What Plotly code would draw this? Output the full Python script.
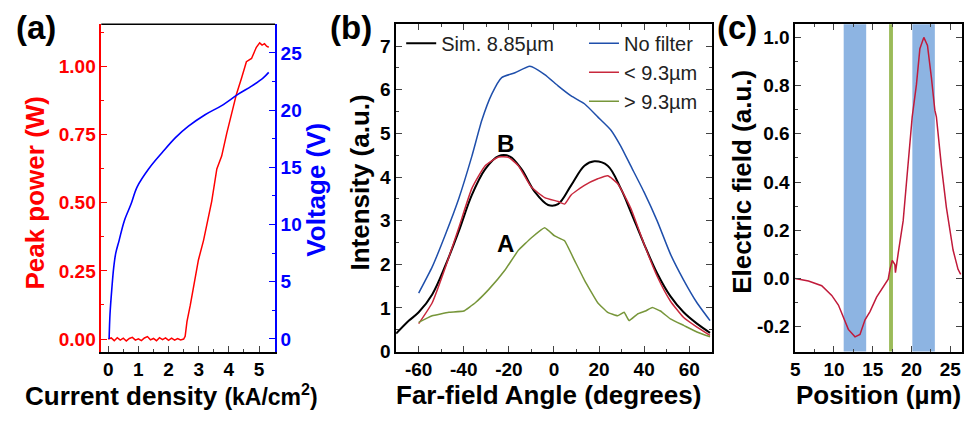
import plotly.graph_objects as go

FONT = "Liberation Sans"

# ---------------- Panel (a) data ----------------
a_power_x = [0.0, 0.1, 0.2, 0.3, 0.4, 0.5, 0.6, 0.7, 0.8, 0.9, 1.0, 1.1, 1.2, 1.3, 1.4, 1.5, 1.6, 1.7, 1.8, 1.9,
             2.0, 2.1, 2.2, 2.3, 2.4, 2.5, 2.55, 2.61, 2.72, 2.88, 2.99, 3.16, 3.27, 3.43, 3.6, 3.76, 3.93,
             4.09, 4.25, 4.42, 4.58, 4.75, 4.91, 5.02, 5.1, 5.18, 5.25, 5.32]
a_power_y = [0.0, 0.004, -0.006, 0.005, -0.004, 0.003, -0.007, 0.002, 0.006, -0.004, 0.001, -0.006, 0.004,
             0.009, -0.003, 0.002, -0.006, 0.005, -0.002, 0.004, -0.005, 0.003, -0.004, 0.002, -0.003, 0.0,
             0.01, 0.064, 0.124, 0.219, 0.29, 0.362, 0.421, 0.505, 0.624, 0.671, 0.755,
             0.826, 0.898, 0.957, 1.017, 1.029, 1.07, 1.086, 1.078, 1.083, 1.074, 1.07]
a_volt_x = [0.03, 0.06, 0.12, 0.18, 0.25, 0.36, 0.53, 0.75, 0.96, 1.35, 1.79, 2.23, 2.66, 3.21, 3.76, 4.31,
            4.75, 5.13, 5.32]
a_volt_y = [0.0, 2.2, 4.4, 6.2, 7.5, 8.6, 10.3, 11.75, 13.3, 14.9, 16.3, 17.6, 18.6, 19.6, 20.4, 21.4,
            22.1, 22.8, 23.3]

# ---------------- Panel (b) data ----------------
b_blue_x = [-60, -54, -48.1, -42.2, -36.4, -32, -27.6, -23.2, -17.3, -10.7, -4.1, 1.8, 7.6, 13.5, 19.4,
            25.2, 29.6, 34, 39.9, 45.8, 51.6, 57.5, 63.4, 69.2]
b_blue_y = [1.34, 1.94, 2.69, 3.51, 4.48, 5.3, 5.9, 6.28, 6.39, 6.54, 6.35, 6.09, 5.86, 5.68, 5.38,
            5.08, 4.71, 4.26, 3.66, 2.99, 2.24, 1.64, 1.12, 0.71]
b_sim_x = [-70, -64.3, -60, -54, -48.1, -42.2, -36.4, -30.5, -24.6, -19.5, -14.4, -8.5, -2.6, 1.8, 7.6,
           13.5, 17.9, 23.8, 29.6, 34, 39.9, 45.8, 51.6, 57.5, 63.4, 69.2]
b_sim_y = [0.41, 0.71, 0.9, 1.31, 1.98, 2.76, 3.59, 4.18, 4.48, 4.47, 4.18, 3.66, 3.36, 3.38, 3.81,
           4.26, 4.36, 4.26, 3.74, 3.21, 2.47, 1.79, 1.27, 0.9, 0.64, 0.43]
b_red_x = [-60, -54, -48.1, -42.2, -36.4, -30.5, -24.6, -20.2, -15.8, -10, -4.1, 1.8, 4.7, 7.6, 13.5,
           19.4, 23.8, 28.2, 34, 39.9, 45.8, 51.6, 57.5, 63.4, 69.2]
b_red_y = [0.64, 1.12, 1.94, 2.84, 3.74, 4.26, 4.46, 4.45, 4.26, 3.77, 3.53, 3.44, 3.38, 3.59, 3.81,
           3.96, 4.03, 3.85, 3.29, 2.47, 1.72, 1.16, 0.78, 0.56, 0.37]
b_green_x = [-60, -54, -46.6, -40, -34.9, -29, -21.7, -15.8, -10, -4.1, 0.3, 4.7, 9.1, 13.5, 19.4, 23.8,
             28.2, 31.1, 33.3, 37, 40.6, 43.6, 47.2, 51.6, 57.5, 63.4, 69.2]
b_green_y = [0.67, 0.82, 0.9, 0.93, 1.12, 1.42, 1.87, 2.32, 2.61, 2.84, 2.65, 2.54, 2.09, 1.64, 1.12, 0.9,
             0.82, 0.9, 0.71, 0.86, 0.93, 1.01, 0.93, 0.75, 0.6, 0.45, 0.34]
b_names = ["Sim. 8.85\u00b5m", "No filter", "< 9.3\u00b5m", "> 9.3\u00b5m"]
b_ticks = [-60, -40, -20, 0, 20, 40, 60]
b_ticktext = ["-60", "-40", "-20", "0", "20", "40", "60"]

# ---------------- Panel (c) data ----------------
c_x = [5.0, 6.71, 8.42, 9.71, 10.57, 11.21, 11.85, 12.71, 13.35, 14.0, 14.64, 15.49, 16.35, 16.99, 17.21,
       17.51, 17.85, 17.92, 18.28, 18.92, 19.35, 19.78, 20.08, 20.63, 21.07, 21.58, 22.05, 22.56, 23.0,
       23.2, 23.84, 24.49, 25.35, 25.99, 26.33]
c_y = [0.0, -0.01, -0.03, -0.07, -0.11, -0.164, -0.211, -0.242, -0.232, -0.171, -0.137, -0.077, -0.036,
       -0.003, 0.038, 0.075, 0.058, 0.024, 0.105, 0.24, 0.40, 0.56, 0.67, 0.805, 0.953, 1.0, 0.967, 0.832,
       0.698, 0.67, 0.468, 0.294, 0.118, 0.038, 0.017]
c_blue_bands = [(11.25, 14.15), (20.1, 23.0)]
c_green_band = (17.1, 17.6)
c_yticks = [-0.2, 0.0, 0.2, 0.4, 0.6, 0.8, 1.0]
c_yticktext = ["-0.2", "0.0", "0.2", "0.4", "0.6", "0.8", "1.0"]

RED_A = "#ff0000"
BLUE_A = "#0000ff"
BLUE_B = "#1f4fab"
RED_B = "#c8283c"
GREEN_B = "#77963a"
RED_C = "#c01a3a"

fig = go.Figure()

# Panel a
fig.add_trace(go.Scatter(x=a_power_x, y=a_power_y, mode="lines", line=dict(color=RED_A, width=1.5),
                         xaxis="x", yaxis="y", showlegend=False))
fig.add_trace(go.Scatter(x=a_volt_x, y=a_volt_y, mode="lines", line=dict(color=BLUE_A, width=1.6, shape="spline"),
                         xaxis="x", yaxis="y2", showlegend=False))

# Panel b
fig.add_trace(go.Scatter(x=b_sim_x, y=b_sim_y, mode="lines", name=b_names[0],
                         line=dict(color="black", width=2, shape="spline"),
                         xaxis="x2", yaxis="y3", legend="legend"))
fig.add_trace(go.Scatter(x=b_blue_x, y=b_blue_y, mode="lines", name=b_names[1],
                         line=dict(color=BLUE_B, width=1.5, shape="spline", smoothing=0.5),
                         xaxis="x2", yaxis="y3", legend="legend2"))
fig.add_trace(go.Scatter(x=b_red_x, y=b_red_y, mode="lines", name=b_names[2],
                         line=dict(color=RED_B, width=1.5, shape="spline", smoothing=0.5),
                         xaxis="x2", yaxis="y3", legend="legend2"))
fig.add_trace(go.Scatter(x=b_green_x, y=b_green_y, mode="lines", name=b_names[3],
                         line=dict(color=GREEN_B, width=1.5, shape="spline", smoothing=0.3),
                         xaxis="x2", yaxis="y3", legend="legend2"))

# Panel c
fig.add_trace(go.Scatter(x=c_x, y=c_y, mode="lines", line=dict(color=RED_C, width=1.5),
                         xaxis="x3", yaxis="y4", showlegend=False))

YDOM = [0.1425, 0.9406]
tickfont = dict(family=FONT, size=19, color="black", weight="bold")


def axis_common(**kw):
    d = dict(ticks="inside", ticklen=6, tickwidth=1.2, showline=True, linewidth=1.5,
             showgrid=False, zeroline=False, tickfont=tickfont)
    d.update(kw)
    return d


fig.update_layout(
    width=964, height=421,
    margin=dict(l=0, r=0, t=0, b=0),
    paper_bgcolor="white", plot_bgcolor="white",
    font=dict(family=FONT, color="black"),
    xaxis=axis_common(domain=[0.1006, 0.2822], range=[-0.23, 5.53], tick0=0, dtick=1, linecolor="black",
                      anchor="y", minor=dict(ticks="inside", ticklen=3, dtick=0.5, tick0=0)),
    yaxis=axis_common(domain=YDOM, range=[-0.046, 1.154], tick0=0, dtick=0.25, tickformat=".2f",
                      linecolor=RED_A, tickcolor=RED_A, anchor="x",
                      tickfont=dict(family=FONT, size=19, color=RED_A, weight="bold"),
                      minor=dict(ticks="inside", ticklen=3, dtick=0.125, tick0=0, tickcolor=RED_A)),
    yaxis2=axis_common(domain=YDOM, range=[-1.1, 27.5], tick0=0, dtick=5, side="right", overlaying="y",
                       anchor="x", linecolor=BLUE_A, tickcolor=BLUE_A,
                       tickfont=dict(family=FONT, size=19, color=BLUE_A, weight="bold"),
                       minor=dict(ticks="inside", ticklen=3, dtick=2.5, tick0=0, tickcolor=BLUE_A)),
    xaxis2=axis_common(domain=[0.4087, 0.7386], range=[-70, 70], tickmode="array", tickvals=b_ticks,
                       ticktext=b_ticktext, linecolor="black", anchor="y3", mirror="ticks",
                       minor=dict(ticks="inside", ticklen=3, dtick=10, tick0=0)),
    yaxis3=axis_common(domain=YDOM, range=[0, 7.5], tick0=0, dtick=1, linecolor="black", anchor="x2",
                       mirror="ticks", minor=dict(ticks="inside", ticklen=3, dtick=0.5, tick0=0)),
    xaxis3=axis_common(domain=[0.8257, 1.0], range=[5, 26.5], tick0=5, dtick=5, linecolor="black",
                       anchor="y4", mirror="ticks", minor=dict(ticks="inside", ticklen=3, dtick=2.5, tick0=0)),
    yaxis4=axis_common(domain=YDOM, range=[-0.303, 1.054], tickmode="array", tickvals=c_yticks,
                       ticktext=c_yticktext, linecolor="black", anchor="x3", mirror="ticks",
                       minor=dict(ticks="inside", ticklen=3, dtick=0.1, tick0=0)),
    legend=dict(x=0.414, y=0.942, xanchor="left", yanchor="top", bgcolor="rgba(0,0,0,0)",
                font=dict(family=FONT, size=20, color="#222222"), borderwidth=0),
    legend2=dict(x=0.605, y=0.942, xanchor="left", yanchor="top", bgcolor="rgba(0,0,0,0)",
                 font=dict(family=FONT, size=20, color="#222222"), borderwidth=0, tracegroupgap=0),
)

# top black line of panel a
fig.add_shape(type="line", xref="paper", yref="paper", x0=0.1006, x1=0.2822, y0=YDOM[1], y1=YDOM[1],
              line=dict(color="black", width=1.5))

# bands in panel c
for (b0, b1) in c_blue_bands:
    fig.add_shape(type="rect", xref="x3", yref="y4 domain", x0=b0, x1=b1, y0=0, y1=1,
                  fillcolor="#8db4e2", line=dict(width=0), layer="below")
fig.add_shape(type="rect", xref="x3", yref="y4 domain", x0=c_green_band[0], x1=c_green_band[1], y0=0, y1=1,
              fillcolor="#9bbb59", line=dict(width=0), layer="below")


def ann(text, x, y, color="black", angle=0, size=26):
    fig.add_annotation(text=text, x=x / 964, y=1 - y / 421, xref="paper", yref="paper", showarrow=False,
                       textangle=angle, font=dict(family=FONT, size=size, color=color, weight="bold"),
                       xanchor="center", yanchor="middle")


# panel labels
ann("(a)", 31, 28, size=33)
ann("(b)", 349, 28, size=33)
ann("(c)", 737, 28, size=33)

# axis titles
ann("Peak power (W)", 30, 198, color=RED_A, angle=-90)
ann("Voltage (V)", 313, 195, color=BLUE_A, angle=-90)
ann("Current density <span style='font-size:23px'>(kA/cm<sup>2</sup>)</span>", 168, 406)
ann("Intensity (a.u.)", 358, 187, angle=-90)
ann("Far-field Angle (degrees)", 547, 406)
ann("Electric field (a.u.)", 743, 187, angle=-90)
ann("Position (\u00b5m)", 880, 406)

# curve labels in panel b
fig.add_annotation(text="B", x=-21.7, y=4.78, xref="x2", yref="y3", showarrow=False,
                   font=dict(family=FONT, size=24, color="black", weight="bold"))
fig.add_annotation(text="A", x=-21.7, y=2.47, xref="x2", yref="y3", showarrow=False,
                   font=dict(family=FONT, size=24, color="black", weight="bold"))

fig.write_html("out.html", config={"displayModeBar": False},
               post_script="document.body.style.margin='0px';")
